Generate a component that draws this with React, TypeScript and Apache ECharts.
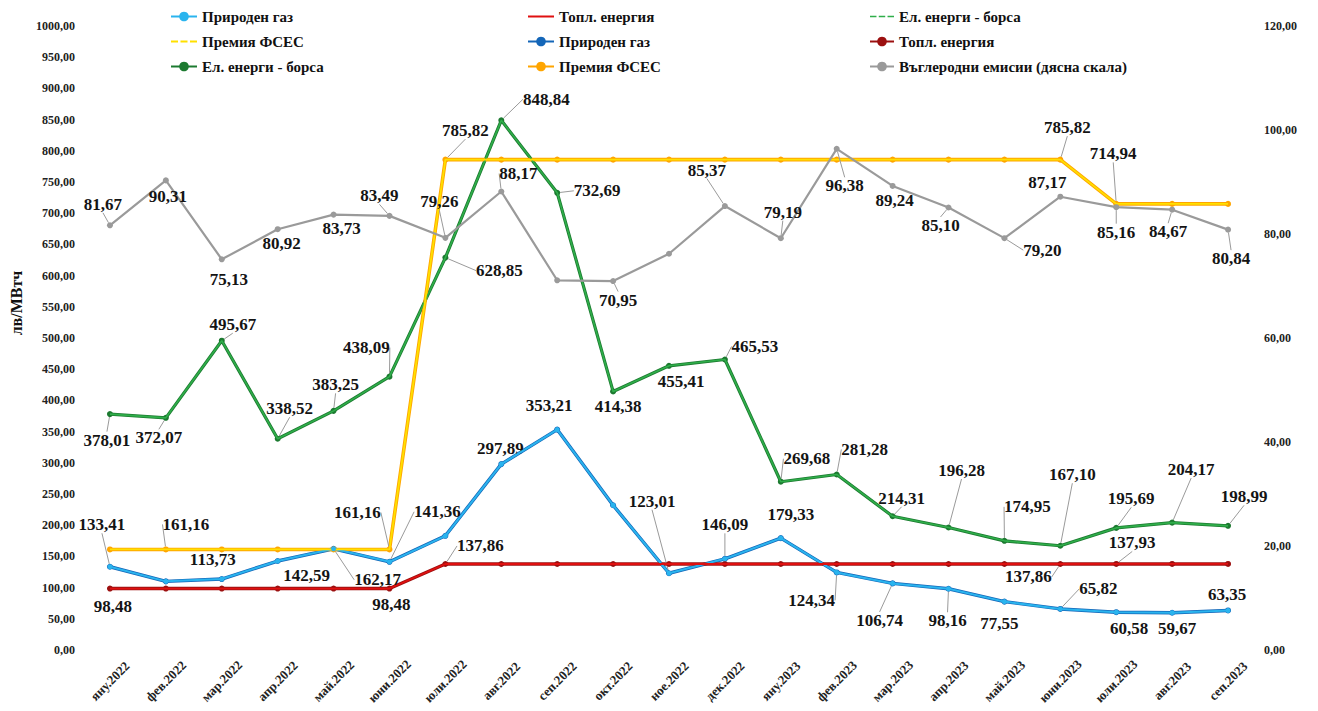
import React, { useEffect, useRef } from "react";
import * as echarts from "echarts";

const categories = [
  "яну.2022", "фев.2022", "мар.2022", "апр.2022", "май.2022", "юни.2022",
  "юли.2022", "авг.2022", "сеп.2022", "окт.2022", "ное.2022", "дек.2022",
  "яну.2023", "фев.2023", "мар.2023", "апр.2023", "май.2023", "юни.2023",
  "юли.2023", "авг.2023", "сеп.2023",
];

const gas = [133.41, 110.0, 113.73, 142.59, 162.17, 141.36, 183.0, 297.89, 353.21, 232.0, 123.01,
  146.09, 179.33, 124.34, 106.74, 98.16, 77.55, 65.82, 60.58, 59.67, 63.35];
const heat = [98.48, 98.48, 98.48, 98.48, 98.48, 98.48, 137.86, 137.86, 137.86, 137.86, 137.86,
  137.86, 137.86, 137.86, 137.86, 137.86, 137.86, 137.86, 137.93, 137.93, 137.93];
const power = [378.01, 372.07, 495.67, 338.52, 383.25, 438.09, 628.85, 848.84, 732.69, 414.38, 455.41,
  465.53, 269.68, 281.28, 214.31, 196.28, 174.95, 167.1, 195.69, 204.17, 198.99];
const premium = [161.16, 161.16, 161.16, 161.16, 161.16, 161.16, 785.82, 785.82, 785.82, 785.82, 785.82,
  785.82, 785.82, 785.82, 785.82, 785.82, 785.82, 785.82, 714.94, 714.94, 714.94];
const carbon = [81.67, 90.31, 75.13, 80.92, 83.73, 83.49, 79.26, 88.17, 71.1, 70.95, 76.2,
  85.37, 79.19, 96.38, 89.24, 85.1, 79.2, 87.17, 85.16, 84.67, 80.84];

// label placement: [dx, dy, leader line] per point, null = no label
type L = [number, number, number] | null;
const gasLabels: L[] = [[-8, -42, 1], null, [-9, -20, 0], [29, 14, 0], [44, 31, 1], [48, -50, 1], null,
  [-1, -16, 0], [-8, -24, 0], null, [-17, -72, 1], [0, -34, 1], [10, -24, 0], [-25, 28, 1], [-13, 37, 1],
  [-1, 32, 1], [-5, 22, 0], [38, -20, 1], [13, 16, 0], [5, 16, 0], [-1, -16, 0]];
const heatLabels: L[] = [[3, 18, 0], null, null, null, null, [2, 16, 0], [35, -18, 1], null, null, null,
  null, null, null, null, null, null, null, [-32, 13, 1], [16, -21, 1], null, null];
const powerLabels: L[] = [[-3, 26, 1], [-7, 20, 1], [11, -16, 1], [12, -30, 1], [2, -26, 1], [-23, -29, 1],
  [54, 13, 1], [45, -21, 1], [40, -2, 1], [5, 15, 0], [12, 16, 0], [30, -13, 1], [26, -23, 1], [28, -25, 1],
  [9, -18, 1], [13, -57, 1], [23, -34, 1], [12, -71, 1], [15, -29, 1], [19, -53, 1], [16, -29, 1]];
const premiumLabels: L[] = [null, [20, -25, 1], null, null, null, [-32, -37, 1], [20, -29, 1], null, null,
  null, null, null, null, null, null, null, null, [7, -32, 1], [-3, -50, 1], null, null];
const carbonLabels: L[] = [[-7, -21, 1], [2, 16, 0], [7, 20, 0], [4, 14, 0], [8, 14, 0], [-10, -20, 1],
  [-6, -36, 1], [17, -18, 1], null, [5, 19, 1], null, [-18, -36, 1], [2, -26, 1], [8, 37, 1], [2, 15, 0],
  [-8, 18, 1], [38, 12, 1], [-13, -14, 0], [0, 25, 1], [-4, 22, 1], [3, 29, 1]];

const SERIF = "'Liberation Serif', 'Times New Roman', serif";
const fmt = (v: number) => v.toFixed(2).replace(".", ",");

// legend glyphs: a plain line and a dashed line (tiny corner anchors keep the 26x12 box)
const LINE_ICON = "path://M0,0h0.05v0.05h-0.05z M0,5.1h26v1.8h-26z M25.95,11.95h0.05v0.05h-0.05z";
const DASH_ICON =
  "path://M0,0h0.05v0.05h-0.05z M0,5.1h7v1.8h-7z M9.5,5.1h7v1.8h-7z M19,5.1h7v1.8h-7z M25.95,11.95h0.05v0.05h-0.05z";

function withLabels(values: number[], labels: L[]) {
  return values.map((v, i) => {
    const l = labels[i];
    if (!l) return { value: v, label: { show: false } };
    return { value: v, label: { show: true }, labelLine: { show: !!l[2] } };
  });
}

function labelled(
  name: string,
  values: number[],
  labels: L[],
  color: string,
  width: number,
  z: number,
  yAxisIndex = 0
) {
  return {
    name,
    type: "line",
    yAxisIndex,
    z,
    data: withLabels(values, labels),
    symbol: "circle",
    symbolSize: 6,
    itemStyle: { color },
    lineStyle: { color, width },
    label: {
      show: true,
      position: "inside",
      formatter: (p: any) => fmt(p.value),
      fontFamily: SERIF,
      fontWeight: "bold",
      fontSize: 17,
      color: "#141414",
    },
    labelLine: { show: false, lineStyle: { color: "#9a9a9a", width: 1 } },
    labelLayout: (p: any) => {
      const l = labels[p.dataIndex];
      return l ? { dx: l[0], dy: l[1] } : {};
    },
  };
}

function plain(name: string, values: number[], color: string, width: number, z: number, symbol = "none") {
  return {
    name,
    type: "line",
    z,
    data: values,
    symbol,
    symbolSize: 5,
    itemStyle: { color },
    lineStyle: { color, width },
    silent: true,
  };
}

const legendText = { fontFamily: SERIF, fontWeight: "bold", fontSize: 15, color: "#111" };
const legendBase = {
  orient: "vertical",
  top: 4,
  itemWidth: 26,
  itemHeight: 12,
  itemGap: 10,
  textStyle: legendText,
  selectedMode: false,
};

export default function App() {
  const ref = useRef<HTMLDivElement>(null);
  useEffect(() => {
    if (!ref.current) return;
    const chart = echarts.init(ref.current, undefined, { renderer: "svg" });
    const option: any = {
      animation: false,
      backgroundColor: "#ffffff",
      grid: { left: 82, right: 62, top: 26, bottom: 61 },
      legend: [
        {
          ...legendBase,
          left: 165,
          data: [
            { name: "Природен газ " },
            { name: "Премия ФСЕС ", icon: DASH_ICON, itemStyle: { borderWidth: 0 } },
            { name: "Ел. енерги - борса" },
          ],
        },
        {
          ...legendBase,
          left: 522,
          data: [
            { name: "Топл. енергия ", icon: LINE_ICON, itemStyle: { borderWidth: 0 } },
            { name: "Природен газ" },
            { name: "Премия ФСЕС" },
          ],
        },
        {
          ...legendBase,
          left: 864,
          itemWidth: 24,
          data: [
            { name: "Ел. енерги - борса ", icon: DASH_ICON, itemStyle: { borderWidth: 0 } },
            { name: "Топл. енергия" },
            { name: "Въглеродни емисии (дясна скала)" },
          ],
        },
      ],
      xAxis: {
        type: "category",
        data: categories,
        boundaryGap: true,
        axisLine: { show: false },
        axisTick: { show: false },
        axisLabel: {
          rotate: 45,
          align: "center",
          verticalAlign: "middle",
          margin: 31,
          interval: 0,
          fontFamily: SERIF,
          fontWeight: "bold",
          fontSize: 13,
          color: "#222",
        },
      },
      yAxis: [
        {
          type: "value",
          min: 0,
          max: 1000,
          interval: 50,
          name: "лв/МВтч",
          nameLocation: "middle",
          nameGap: 58,
          nameRotate: 90,
          nameTextStyle: {
            fontFamily: SERIF,
            fontWeight: "bold",
            fontSize: 16,
            color: "#111",
            padding: [0, 0, 0, 70],
          },
          axisLine: { show: false },
          axisTick: { show: false },
          splitLine: { show: false },
          axisLabel: {
            formatter: (v: number) => fmt(v),
            fontFamily: SERIF,
            fontWeight: "bold",
            fontSize: 12,
            color: "#222",
            margin: 7,
          },
        },
        {
          type: "value",
          min: 0,
          max: 120,
          interval: 20,
          position: "right",
          axisLine: { show: false },
          axisTick: { show: false },
          splitLine: { show: false },
          axisLabel: {
            formatter: (v: number) => fmt(v),
            fontFamily: SERIF,
            fontWeight: "bold",
            fontSize: 12,
            color: "#222",
            margin: 8,
          },
        },
      ],
      series: [
        plain("Природен газ ", gas, "#2ab4ee", 2, 4, "circle"),
        plain("Топл. енергия ", heat, "#e01010", 1.8, 4),
        plain("Ел. енерги - борса ", power, "#2fae4a", 1.6, 4),
        plain("Премия ФСЕС ", premium, "#ffe000", 1.8, 4),
        labelled("Природен газ", gas, gasLabels, "#1466b8", 3.4, 3),
        labelled("Топл. енергия", heat, heatLabels, "#9c1010", 3.4, 3),
        labelled("Ел. енерги - борса", power, powerLabels, "#1c7a30", 3.2, 3),
        labelled("Премия ФСЕС", premium, premiumLabels, "#ffa500", 3.6, 3),
        labelled("Въглеродни емисии (дясна скала)", carbon, carbonLabels, "#9a9a9a", 2.2, 5, 1),
      ],
    };
    chart.setOption(option);
    return () => chart.dispose();
  }, []);
  return (
    <div
      ref={ref}
      style={{ position: "fixed", left: 0, top: 0, width: 1318, height: 711, background: "#fff" }}
    />
  );
}
